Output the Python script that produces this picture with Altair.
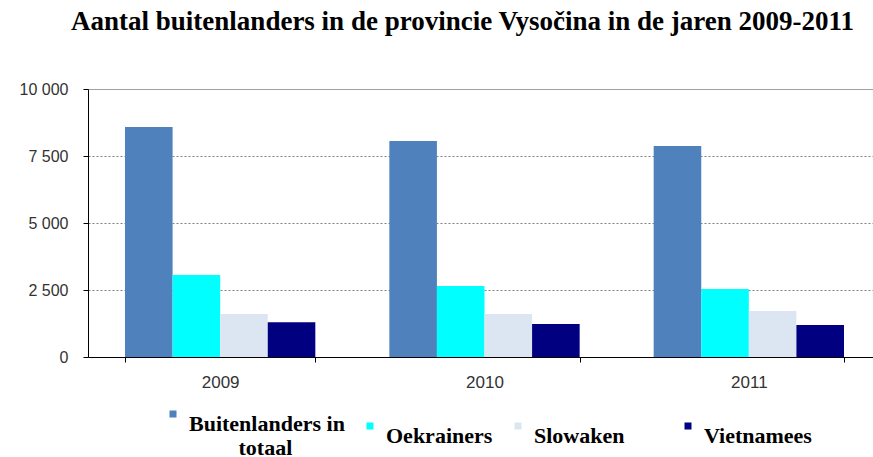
import altair as alt
import pandas as pd

years = ["2009", "2010", "2011"]
series = ["Buitenlanders in totaal", "Oekrainers", "Slowaken", "Vietnamees"]
colors = ["#4F81BD", "#00FFFF", "#DCE6F2", "#000080"]
values = {
    "Buitenlanders in totaal": [8580, 8060, 7870],
    "Oekrainers": [3060, 2650, 2540],
    "Slowaken": [1600, 1600, 1720],
    "Vietnamees": [1300, 1230, 1190],
}
y_ticks = [0, 2500, 5000, 7500, 10000]

rows = []
for s in series:
    for y, v in zip(years, values[s]):
        rows.append({"year": y, "series": s, "value": v})
df = pd.DataFrame(rows)

NB = "\u00a0"
ZW = "\u200b"
label_expr = (
    "datum.label == 'Buitenlanders in totaal' ? ['Buitenlanders in', '" + ZW + NB * 9 + "totaal'] : "
    "datum.label == 'Slowaken' ? 'Slowaken" + NB * 7 + ZW + "' : datum.label"
)

chart = alt.Chart(df).mark_bar().encode(
    x=alt.X(
        "year:N",
        sort=years,
        title=None,
        scale=alt.Scale(paddingInner=0.28, paddingOuter=0.14, range=[0, 793]),
        axis=alt.Axis(
            labelAngle=0,
            tickBand="extent",
            tickSize=5,
            tickColor="#000000",
            domainColor="#000000",
            labelFont="Liberation Sans",
            labelFontSize=17,
            labelColor="#333333",
            labelPadding=12,
            grid=False,
        ),
    ),
    xOffset=alt.XOffset("series:N", sort=series, scale=alt.Scale(paddingInner=0, paddingOuter=0)),
    y=alt.Y(
        "value:Q",
        title=None,
        scale=alt.Scale(domain=[0, 10000]),
        axis=alt.Axis(
            values=y_ticks,
            labelExpr="replace(format(datum.value, ','), ',', ' ')",
            tickSize=5,
            tickColor="#000000",
            domainColor="#000000",
            labelFont="Liberation Sans",
            labelFontSize=16,
            labelColor="#333333",
            labelPadding=15,
            grid=True,
            gridDash={"condition": {"test": "datum.value === 10000", "value": []}, "value": [2, 2]},
            gridColor={"condition": {"test": "datum.value === 10000", "value": "#A0A0A0"}, "value": "#808080"},
        ),
    ),
    color=alt.Color(
        "series:N",
        sort=series,
        scale=alt.Scale(domain=series, range=colors),
        legend=alt.Legend(
            title=None,
            orient="none",
            legendX=74,
            legendY=314,
            direction="horizontal",
            columns=4,
            columnPadding=14,
            padding=0,
            symbolType="square",
            symbolSize=49,
            symbolStrokeWidth=0,
            labelFont="Liberation Serif",
            labelFontWeight="bold",
            labelFontSize=22,
            labelColor="#000000",
            labelBaseline="top",
            labelOffset=5,
            labelLimit=500,
            labelExpr=label_expr,
        ),
    ),
).properties(
    width=785,
    height=268,
    title=alt.TitleParams(
        "Aantal buitenlanders in de provincie Vysočina in de jaren 2009-2011",
        font="Liberation Serif",
        fontWeight="bold",
        fontSize=27,
        color="#000000",
        anchor="middle",
        dx=-18,
        offset=45,
    ),
    autosize=alt.AutoSizeParams(type="none"),
    padding={"left": 88, "top": 89, "right": 0, "bottom": 100},
).configure_view(stroke=None)

chart.save("out.html", embed_options={"renderer": "svg", "actions": False})
